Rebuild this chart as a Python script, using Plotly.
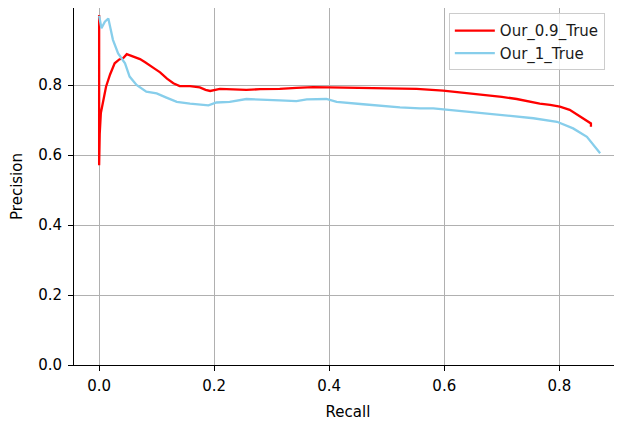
import plotly.graph_objects as go

# Our_0.9_True (red)
red_recall = [0.0, 0.0, 0.001, 0.003, 0.007, 0.012, 0.019, 0.027, 0.035, 0.042, 0.048, 0.055,
              0.065, 0.071, 0.080, 0.088, 0.097, 0.106, 0.118, 0.129, 0.140, 0.158, 0.175,
              0.185, 0.193, 0.210, 0.230, 0.256, 0.280, 0.314, 0.343, 0.372, 0.400, 0.430,
              0.459, 0.500, 0.523, 0.552, 0.598, 0.630, 0.668, 0.700, 0.726, 0.750, 0.766,
              0.784, 0.801, 0.818, 0.836, 0.850, 0.855, 0.855]
red_precision = [1.0, 0.571, 0.66, 0.72, 0.757, 0.795, 0.83, 0.862, 0.873, 0.877, 0.888, 0.884,
                 0.878, 0.874, 0.865, 0.857, 0.846, 0.836, 0.818, 0.805, 0.797, 0.797, 0.793,
                 0.786, 0.783, 0.789, 0.787, 0.786, 0.788, 0.789, 0.792, 0.794, 0.793, 0.792,
                 0.791, 0.790, 0.788, 0.789, 0.784, 0.779, 0.772, 0.766, 0.760, 0.752, 0.747,
                 0.743, 0.738, 0.729, 0.710, 0.695, 0.690, 0.681]

# Our_1_True (sky blue)
blue_recall = [0.0, 0.002, 0.004, 0.010, 0.016, 0.019, 0.024, 0.033, 0.045, 0.053, 0.065,
               0.082, 0.100, 0.117, 0.135, 0.158, 0.175, 0.190, 0.204, 0.227, 0.256, 0.285,
               0.314, 0.343, 0.361, 0.395, 0.413, 0.459, 0.500, 0.523, 0.558, 0.581, 0.639,
               0.697, 0.755, 0.796, 0.824, 0.848, 0.862, 0.871]
blue_precision = [0.998, 0.975, 0.962, 0.981, 0.990, 0.967, 0.929, 0.890, 0.862, 0.824, 0.800,
                  0.781, 0.776, 0.764, 0.752, 0.747, 0.745, 0.742, 0.750, 0.752, 0.760, 0.757,
                  0.756, 0.754, 0.759, 0.760, 0.752, 0.745, 0.738, 0.736, 0.733, 0.733, 0.724,
                  0.714, 0.705, 0.695, 0.676, 0.652, 0.624, 0.605]

x_ticks = [0.0, 0.2, 0.4, 0.6, 0.8]
x_tick_labels = ["0.0", "0.2", "0.4", "0.6", "0.8"]
y_ticks = [0.0, 0.2, 0.4, 0.6, 0.8]
y_tick_labels = ["0.0", "0.2", "0.4", "0.6", "0.8"]

FONT = "DejaVu Sans"

fig = go.Figure()
fig.add_trace(go.Scatter(x=red_recall, y=red_precision, mode="lines", name="Our_0.9_True",
                         line=dict(color="#ff0000", width=2.3)))
fig.add_trace(go.Scatter(x=blue_recall, y=blue_precision, mode="lines", name="Our_1_True",
                         line=dict(color="#87ceeb", width=2.3)))

# the page body has an 8px margin; the figure size/margins compensate for it
fig.update_layout(
    width=614, height=415,
    margin=dict(l=66, r=0, t=0, b=58),
    paper_bgcolor="white", plot_bgcolor="white",
    font=dict(family=FONT, size=15, color="black"),
    showlegend=True,
    legend=dict(x=0.684, y=0.985, xanchor="left", yanchor="top",
                bordercolor="#cccccc", borderwidth=1,
                bgcolor="rgba(255,255,255,0.8)",
                font=dict(family=FONT, size=15, color="#1a1a1a"),
                itemwidth=40, tracegroupgap=0),
    xaxis=dict(range=[-0.0437, 0.909], tickvals=x_ticks, ticktext=x_tick_labels,
               showgrid=True, gridcolor="#b0b0b0", gridwidth=1,
               showline=True, linecolor="black", linewidth=1, mirror=True,
               ticks="outside", ticklen=5, tickcolor="black", zeroline=False,
               ticklabelstandoff=2, automargin=False,
               title=dict(text="Recall", standoff=12, font=dict(size=15))),
    yaxis=dict(range=[0, 1.02], tickvals=y_ticks, ticktext=y_tick_labels,
               showgrid=True, gridcolor="#b0b0b0", gridwidth=1,
               showline=True, linecolor="black", linewidth=1, mirror=False,
               ticks="outside", ticklen=5, tickcolor="black", zeroline=False,
               ticklabelstandoff=3, automargin=False,
               title=dict(text="Precision", standoff=12, font=dict(size=15))),
)

fig.write_html("out.html")
